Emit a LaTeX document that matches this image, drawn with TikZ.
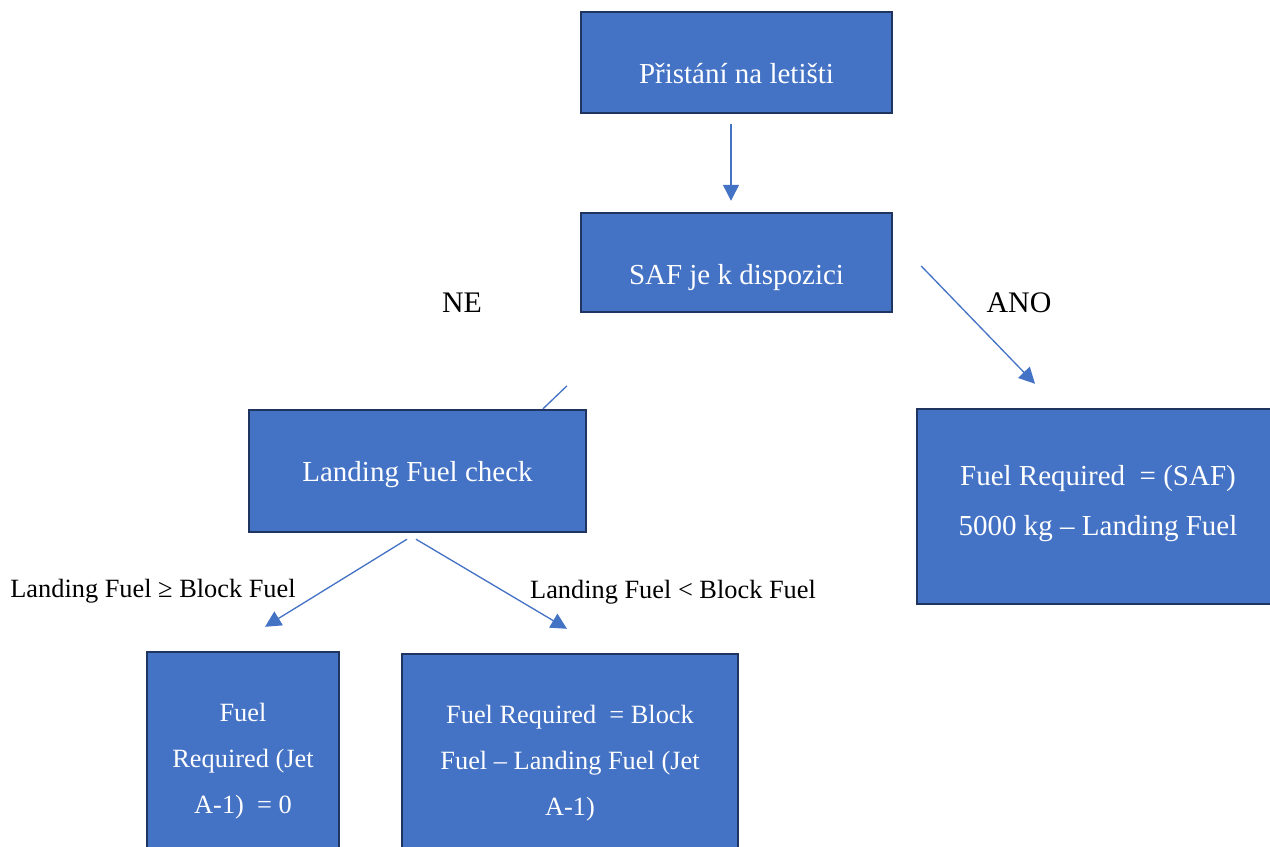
\documentclass[tikz,border=0pt]{standalone}
\usepackage{fontspec}
\setmainfont{Liberation Serif}
\usetikzlibrary{positioning,arrows.meta,calc}
\definecolor{boxblue}{HTML}{4472C4}
\definecolor{boxline}{HTML}{1F3560}

\begin{document}
\begin{tikzpicture}[
    x=0.02cm, y=-0.02cm,
    box/.style={draw=boxline, line width=1.4pt, fill=boxblue, inner sep=0pt},
    boxtext/.style={text=white, align=center, inner sep=0pt, font=\fontsize{16.5}{28.4}\selectfont},
    smalltext/.style={boxtext, font=\fontsize{15}{26}\selectfont},
    link/.style={-{Triangle[length=3.2mm,width=3.2mm]}, draw=boxblue, line width=0.75pt},
    lbl/.style={inner sep=0pt, font=\fontsize{15}{18}\selectfont},
    biglbl/.style={inner sep=0pt, font=\fontsize{17}{20}\selectfont}
]
\useasboundingbox (0,0) rectangle (1270,847);

% boxes
\node[box, minimum width=6.22cm, minimum height=2.02cm] (landing) at (736.5,62.5) {};
\node[box, minimum width=6.22cm, minimum height=1.98cm] (saf) at (736.5,262.5) {};
\node[box, minimum width=6.74cm, minimum height=2.44cm] (check) at (417.5,471) {};
\node[box, minimum width=7.24cm, minimum height=3.9cm] (safreq) at (1098,506.5) {};
\node[box, minimum width=3.84cm, minimum height=4.24cm] (zero) at (243,758) {};
\node[box, minimum width=6.72cm, minimum height=4.2cm] (jetreq) at (570,759) {};

% box texts
\node[boxtext] (landingtxt) at ($(landing)+(0,11)$) {Přistání na letišti};
\node[boxtext] (saftxt) at ($(saf)+(0,15)$) {SAF je k dispozici};
\node[boxtext] (checktxt) at ($(check)+(0,4)$) {Landing Fuel check};
\node[boxtext] (safreqtxt) at ($(safreq)+(0,-3)$) {Fuel Required\ \ = (SAF)\\5000 kg -- Landing Fuel};
\node[smalltext] (zerotxt) at ($(zero)+(0,3)$) {Fuel\\Required (Jet\\A-1)\ \ = 0};
\node[smalltext] (jetreqtxt) at ($(jetreq)+(0,4)$) {Fuel Required\ \ = Block\\Fuel -- Landing Fuel (Jet\\A-1)};

% labels
\node[biglbl] (ne) at (462,303) {NE};
\node[biglbl] (ano) at (1019,303) {ANO};
\node[lbl] (ge) at (153,591) {Landing Fuel ≥ Block Fuel};
\node[lbl] (lt) at (673,592) {Landing Fuel < Block Fuel};

% connectors
\draw[link, shorten <=0.2cm, shorten >=0.22cm] ([xshift=-0.11cm]landing.south) -- ([xshift=-0.11cm]saf.north);
\draw[link] ($(saf.east)+(28,3.5)$) -- ($(safreq.north)+(-63,-24)$);
\draw[draw=boxblue, line width=0.75pt] ($(check.north)+(149.5,-23)$) -- ($(check.north)+(125.5,0)$);
\draw[link] ($(check.south)+(-10.5,6)$) -- ($(zero.north)+(22,-24)$);
\draw[link] ($(check.south)+(-1.5,6)$) -- ($(jetreq.north)+(-3,-24)$);
\end{tikzpicture}
\end{document}
